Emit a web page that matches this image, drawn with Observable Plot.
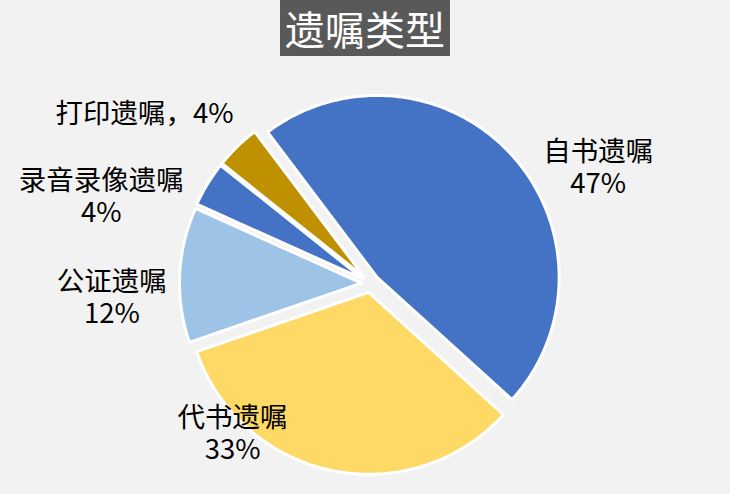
<!DOCTYPE html>
<html><head><meta charset="utf-8">
<script src="https://cdn.jsdelivr.net/npm/d3@7"></script>
<script src="https://cdn.jsdelivr.net/npm/@observablehq/plot@0.6"></script>
<style>
html,body{margin:0;padding:0;background:#F2F2F2;}
body{width:730px;height:494px;overflow:hidden;font-family:"Noto Sans CJK SC","Noto Sans",sans-serif;}
#title{margin:0 auto;width:fit-content;background:#595959;color:#fff;font-size:40px;line-height:56px;height:56px;padding:0 5px;}
#chart svg{display:block;background:transparent;}
</style></head><body>
<div id="title">遗嘱类型</div>
<div id="chart"></div>
<script>
// data
const categories = ["自书遗嘱", "代书遗嘱", "公证遗嘱", "录音录像遗嘱", "打印遗嘱"];
const shares = [47, 33, 12, 4, 4];
const labelTexts = ["自书遗嘱\n47%", "代书遗嘱\n33%", "公证遗嘱\n12%", "录音录像遗嘱\n4%", "打印遗嘱，4%"];
// style / layout
const colors = ["#4472C4", "#FFD966", "#9DC3E6", "#4472C4", "#BF9000"];
const firstSliceAngle = -37;      // degrees, clockwise from 12 o'clock
const radius = 182, explode = 9;
const labelPolar = [[62.8, 256], [222.8, 203], [267, 259], [288, 283], [307, 283]]; // [angle deg, distance]

const rad = d => d * Math.PI / 180;
const arcs = d3.pie().sort(null).value(d => d)
  .startAngle(rad(firstSliceAngle)).endAngle(rad(firstSliceAngle + 360))(shares);

const points = [];
arcs.forEach((a, i) => {
  const mid = (a.startAngle + a.endAngle) / 2;
  const ox = explode * Math.sin(mid), oy = explode * Math.cos(mid);
  points.push({name: categories[i], x: ox, y: oy});
  const n = Math.max(4, Math.ceil((a.endAngle - a.startAngle) / rad(1)));
  for (let k = 0; k <= n; k++) {
    const t = a.startAngle + (a.endAngle - a.startAngle) * k / n;
    points.push({name: categories[i], x: ox + radius * Math.sin(t), y: oy + radius * Math.cos(t)});
  }
});

const labels = categories.map((c, i) => ({
  name: c,
  text: labelTexts[i],
  x: labelPolar[i][1] * Math.sin(rad(labelPolar[i][0])),
  y: labelPolar[i][1] * Math.cos(rad(labelPolar[i][0]))
}));

const chart = Plot.plot({
  width: 730,
  height: 438,
  margin: 0,
  style: {background: "transparent", fontFamily: '"Noto Sans CJK SC", sans-serif'},
  x: {domain: [-370, 360], range: [0, 730], axis: null},
  y: {domain: [227, -211], range: [0, 438], axis: null},
  color: {domain: categories, range: colors},
  marks: [
    Plot.line(points, {x: "x", y: "y", z: "name", fill: "name", stroke: "white", strokeWidth: 3, curve: "linear-closed", strokeLinejoin: "round"}),
    Plot.text(labels, {x: "x", y: "y", text: "text", fontSize: 27.5, lineHeight: 1.16, fill: "#000"})
  ]
});
document.getElementById("chart").appendChild(chart);
</script>
</body></html>
